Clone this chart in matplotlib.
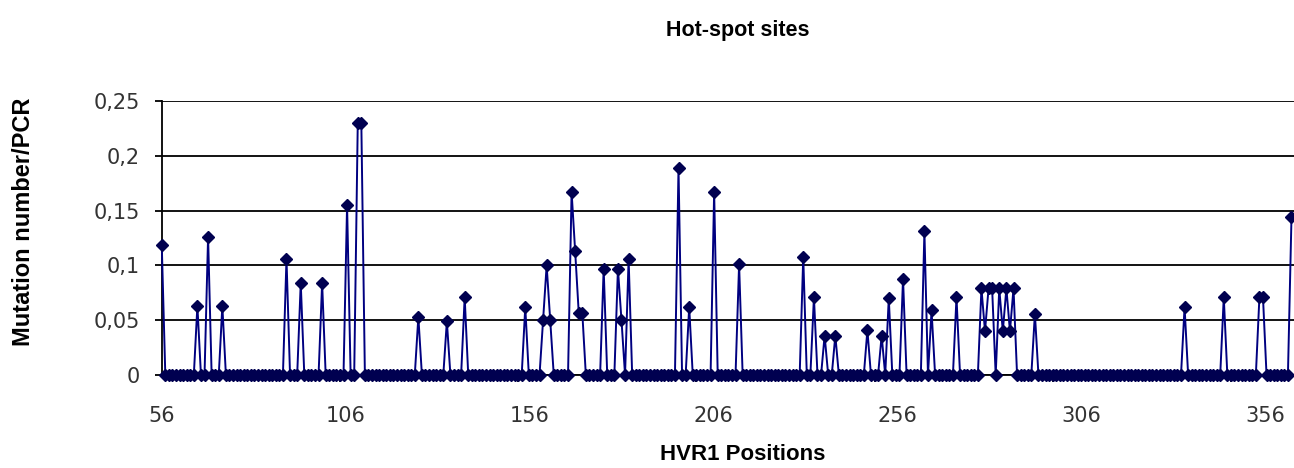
import matplotlib
matplotlib.use('Agg')
import matplotlib.pyplot as plt
from matplotlib.ticker import FixedLocator, FuncFormatter
import numpy as np

# HVR1 positions shown on the category axis
first_pos = 56
last_pos = 373
tick_positions = [56, 106, 156, 206, 256, 306, 356]

# hot-spot positions and their mutation number/PCR (all other sites are 0)
hotspot_pos = [56, 66, 69, 73, 91, 95, 101, 108, 111, 112, 128, 136, 141,
               158, 163, 164, 165, 171, 172, 173, 174, 180, 184, 185, 187,
               201, 204, 211, 218, 236, 239, 242, 245, 254, 258, 260, 264,
               270, 272, 279, 286, 287, 288, 289, 291, 292, 293, 294, 295,
               301, 343, 354, 364, 365, 373]
hotspot_val = [0.119, 0.063, 0.126, 0.063, 0.106, 0.084, 0.084, 0.155, 0.23, 0.23,
               0.053, 0.049, 0.071, 0.062, 0.05, 0.1, 0.05, 0.167, 0.113, 0.057,
               0.057, 0.097, 0.097, 0.05, 0.106, 0.189, 0.062, 0.167, 0.101, 0.108,
               0.071, 0.036, 0.036, 0.041, 0.036, 0.07, 0.088, 0.131, 0.059, 0.071,
               0.079, 0.04, 0.079, 0.079, 0.079, 0.04, 0.079, 0.04, 0.079, 0.056,
               0.062, 0.071, 0.071, 0.071, 0.144]

positions = np.arange(first_pos, last_pos + 1)
mutation_rate = np.zeros(len(positions))
for p, v in zip(hotspot_pos, hotspot_val):
    mutation_rate[p - first_pos] = v

fig = plt.figure(figsize=(12.94, 4.68), dpi=100)
ax = fig.add_axes([0.125, 0.1987, 0.875, 0.5855])

ax.plot(positions, mutation_rate, color='#000080', linewidth=1.4,
        marker='D', markersize=6.2, markerfacecolor='#000050',
        markeredgecolor='#000050', clip_on=False, zorder=3)

ax.set_xlim(first_pos, first_pos + (1294 - 161.7) / 3.564)
ax.set_ylim(0, 0.25)

ax.set_yticks([0, 0.05, 0.1, 0.15, 0.2, 0.25])
ax.yaxis.set_major_formatter(FuncFormatter(lambda v, p: ('%g' % round(v, 2)).replace('.', ',')))

# tick marks every 50 sites; the labels sit a little wider apart in the original
ax.xaxis.set_minor_locator(FixedLocator(tick_positions))
label_spots = [first_pos + i * 184 / 3.564 for i in range(len(tick_positions))]
ax.xaxis.set_major_locator(FixedLocator(label_spots))
ax.set_xticklabels([str(t) for t in tick_positions])

ax.grid(axis='y', color='black', linewidth=1.3)
ax.set_axisbelow(True)
for side in ['top', 'right']:
    ax.spines[side].set_visible(False)
ax.spines['left'].set_linewidth(1.3)
ax.spines['bottom'].set_linewidth(1.3)
ax.tick_params(axis='y', direction='out', length=5, width=1.3,
               labelsize=15, pad=10.5)
ax.tick_params(axis='x', which='major', length=0, labelsize=15, pad=22)
ax.tick_params(axis='x', which='minor', direction='out', length=5, width=1.3)
for lbl in ax.get_xticklabels() + ax.get_yticklabels():
    lbl.set_color('#333333')

fig.text(0.57, 0.935, 'Hot-spot sites', ha='center', va='center',
         fontsize=15.5, fontweight='bold', family='Liberation Sans')
fig.text(0.574, 0.028, 'HVR1 Positions', ha='center', va='center',
         fontsize=16, fontweight='bold', family='Liberation Sans')
fig.text(0.018, 0.525, 'Mutation number/PCR', ha='center', va='center', rotation=90,
         fontsize=17, fontweight='bold', family='Liberation Sans')

plt.savefig('out.png', dpi=100)
